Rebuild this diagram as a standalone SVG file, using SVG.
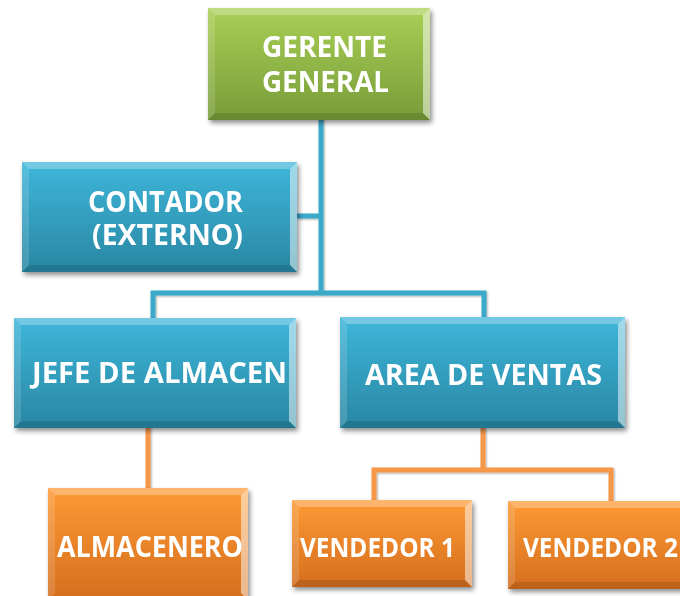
<svg xmlns="http://www.w3.org/2000/svg" width="680" height="596" viewBox="0 0 680 596">
<defs>
<linearGradient id="gGreen" x1="0" y1="0" x2="0" y2="1"><stop offset="0" stop-color="#a9cf55"/><stop offset="1" stop-color="#789c39"/></linearGradient>
<linearGradient id="gBlue" x1="0" y1="0" x2="0" y2="1"><stop offset="0" stop-color="#3eb6da"/><stop offset="1" stop-color="#2987a3"/></linearGradient>
<linearGradient id="gOrange" x1="0" y1="0" x2="0" y2="1"><stop offset="0" stop-color="#fd9a35"/><stop offset="1" stop-color="#d56e1e"/></linearGradient>
<filter id="sh" x="-10%" y="-10%" width="125%" height="130%"><feGaussianBlur in="SourceAlpha" stdDeviation="2.5"/><feOffset dx="2" dy="3" result="b"/><feComponentTransfer><feFuncA type="linear" slope="0.45"/></feComponentTransfer><feMerge><feMergeNode/><feMergeNode in="SourceGraphic"/></feMerge></filter>
<filter id="lsh" x="-20%" y="-20%" width="140%" height="140%"><feGaussianBlur in="SourceAlpha" stdDeviation="1"/><feOffset dx="1" dy="1"/><feComponentTransfer><feFuncA type="linear" slope="0.35"/></feComponentTransfer><feMerge><feMergeNode/><feMergeNode in="SourceGraphic"/></feMerge></filter>
</defs>
<style>
.lbl{font-family:"Open Sans","DejaVu Sans",sans-serif;font-weight:bold;fill:#ffffff;font-size:28px}
.sm{font-size:26px}
.bt{fill:#ffffff;fill-opacity:0.28}
.bl{fill:#ffffff;fill-opacity:0.14}
.br{fill:#ffffff;fill-opacity:0.5}
.bb{fill:#000000;fill-opacity:0.12}
.cb{fill:none;stroke:#3ba9c9;stroke-width:5}
.co{fill:none;stroke:#f5974a;stroke-width:5}
</style>
<g id="connectors" filter="url(#lsh)">
<path class="cb" d="M321 118 V293 M297 216 H321 M153 318 V293 H484 V318"/>
<path class="co" d="M148 426 V488 M483 428 V470 M374 500 V470 H611 V501"/>
</g>
<g id="gerente" filter="url(#sh)">
<rect x="208" y="8" width="222" height="112" fill="url(#gGreen)"/>
<polygon class="bt" points="208,8 430,8 423,15 215,15"/>
<polygon class="bl" points="208,8 215,15 215,113 208,120"/>
<polygon class="br" points="430,8 430,120 423,113 423,15"/>
<polygon class="bb" points="208,120 430,120 423,113 215,113"/>
<text class="lbl" x="262" y="57" textLength="125" lengthAdjust="spacingAndGlyphs">GERENTE</text>
<text class="lbl" x="262" y="92" textLength="127" lengthAdjust="spacingAndGlyphs">GENERAL</text>
</g>
<g id="contador" filter="url(#sh)">
<rect x="22" y="162" width="275" height="110" fill="url(#gBlue)"/>
<polygon class="bt" points="22,162 297,162 290,169 29,169"/>
<polygon class="bl" points="22,162 29,169 29,265 22,272"/>
<polygon class="br" points="297,162 297,272 290,265 290,169"/>
<polygon class="bb" points="22,272 297,272 290,265 29,265"/>
<text class="lbl" x="88" y="212" textLength="155" lengthAdjust="spacingAndGlyphs">CONTADOR</text>
<text class="lbl" x="92" y="245" textLength="151" lengthAdjust="spacingAndGlyphs">(EXTERNO)</text>
</g>
<g id="jefe" filter="url(#sh)">
<rect x="14" y="318" width="282" height="110" fill="url(#gBlue)"/>
<polygon class="bt" points="14,318 296,318 289,325 21,325"/>
<polygon class="bl" points="14,318 21,325 21,421 14,428"/>
<polygon class="br" points="296,318 296,428 289,421 289,325"/>
<polygon class="bb" points="14,428 296,428 289,421 21,421"/>
<text class="lbl" x="32" y="383" textLength="255" lengthAdjust="spacingAndGlyphs">JEFE DE ALMACEN</text>
</g>
<g id="area" filter="url(#sh)">
<rect x="340" y="317" width="285" height="111" fill="url(#gBlue)"/>
<polygon class="bt" points="340,317 625,317 618,324 347,324"/>
<polygon class="bl" points="340,317 347,324 347,421 340,428"/>
<polygon class="br" points="625,317 625,428 618,421 618,324"/>
<polygon class="bb" points="340,428 625,428 618,421 347,421"/>
<text class="lbl" x="365" y="385" textLength="237" lengthAdjust="spacingAndGlyphs">AREA DE VENTAS</text>
</g>
<g id="almacenero" filter="url(#sh)">
<rect x="48" y="488" width="200" height="112" fill="url(#gOrange)"/>
<polygon class="bt" points="48,488 248,488 241,495 55,495"/>
<polygon class="bl" points="48,488 55,495 55,593 48,600"/>
<polygon class="br" points="248,488 248,600 241,593 241,495"/>
<text class="lbl" x="57" y="557" textLength="186" lengthAdjust="spacingAndGlyphs">ALMACENERO</text>
</g>
<g id="vendedor1" filter="url(#sh)">
<rect x="292" y="500" width="180" height="87" fill="url(#gOrange)"/>
<polygon class="bt" points="292,500 472,500 465,507 299,507"/>
<polygon class="bl" points="292,500 299,507 299,580 292,587"/>
<polygon class="br" points="472,500 472,587 465,580 465,507"/>
<polygon class="bb" points="292,587 472,587 465,580 299,580"/>
<text class="lbl sm" x="300" y="557" textLength="155" lengthAdjust="spacingAndGlyphs">VENDEDOR 1</text>
</g>
<g id="vendedor2" filter="url(#sh)">
<rect x="508" y="501" width="180" height="88" fill="url(#gOrange)"/>
<polygon class="bt" points="508,501 688,501 681,508 515,508"/>
<polygon class="bl" points="508,501 515,508 515,582 508,589"/>
<polygon class="bb" points="508,589 688,589 681,582 515,582"/>
<text class="lbl sm" x="523" y="557" textLength="155" lengthAdjust="spacingAndGlyphs">VENDEDOR 2</text>
</g>
</svg>
